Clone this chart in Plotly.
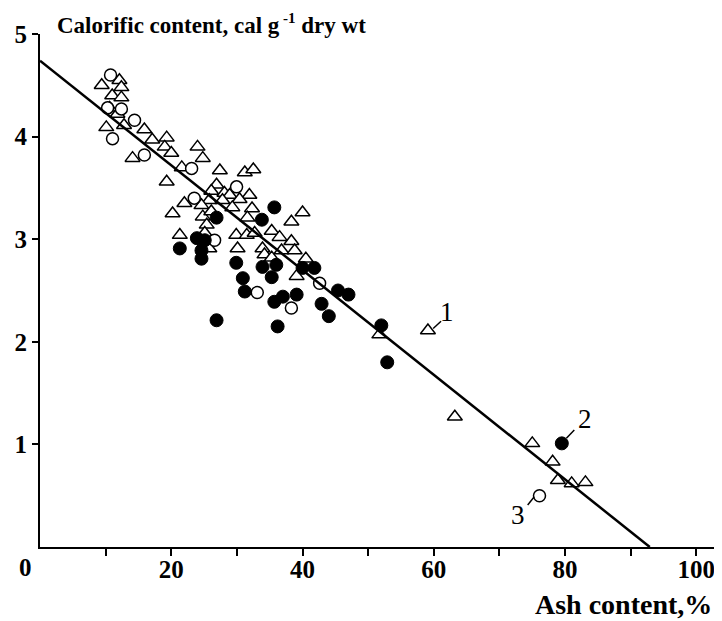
import plotly.graph_objects as go

# Series 1: open triangles
tri_x = [9.4, 12.1, 12.4, 11.0, 12.4, 10.6, 11.8, 10.1, 12.8, 15.9, 17.1, 19.3, 19.0, 20.0, 14.1,
         24.0, 24.8, 21.6, 19.3, 27.4, 31.2, 32.5, 26.9, 26.1, 28.1, 22.0, 20.2, 28.9, 31.9, 25.8,
         27.8, 30.4, 24.6, 29.3, 32.3, 24.8, 26.1, 31.6, 25.4, 25.1, 21.3, 25.8, 29.9, 31.5, 30.1,
         32.7, 35.3, 33.9, 38.3, 40.0, 38.3, 34.2, 35.3, 40.5, 39.1, 36.5, 36.8, 38.8, 51.7, 59.1,
         63.2, 75.0, 78.1, 78.9, 81.0, 83.1]
tri_y = [4.50, 4.55, 4.48, 4.40, 4.38, 4.28, 4.22, 4.09, 4.11, 4.07, 3.97, 3.99, 3.90, 3.84, 3.79,
         3.90, 3.79, 3.70, 3.56, 3.67, 3.65, 3.68, 3.53, 3.47, 3.45, 3.35, 3.25, 3.43, 3.43, 3.38,
         3.38, 3.39, 3.33, 3.31, 3.30, 3.22, 3.27, 3.21, 3.14, 3.06, 3.04, 2.91, 3.04, 3.04, 2.91,
         3.06, 3.08, 2.91, 3.17, 3.26, 2.98, 2.85, 2.82, 2.81, 2.64, 3.02, 2.89, 2.89, 2.07, 2.11,
         1.27, 1.01, 0.83, 0.65, 0.62, 0.63]

# Series 2: filled circles
fil_x = [35.7, 33.8, 26.9, 23.9, 25.1, 21.3, 24.6, 24.6, 29.9, 33.9, 36.0, 35.3, 30.9, 31.2,
         40.0, 41.8, 45.4, 47.0, 37.0, 39.1, 35.7, 42.9, 44.0, 26.9, 36.2, 52.0, 52.9, 79.5]
fil_y = [3.31, 3.19, 3.21, 3.01, 2.99, 2.91, 2.89, 2.81, 2.77, 2.73, 2.75, 2.63, 2.62, 2.49,
         2.72, 2.72, 2.50, 2.46, 2.44, 2.46, 2.39, 2.37, 2.25, 2.21, 2.15, 2.16, 1.80, 1.01]

# Series 3: open circles
opc_x = [10.75, 10.3, 12.4, 11.05, 14.4, 15.9, 23.1, 23.5, 29.95, 26.6, 33.1, 38.3, 42.6, 76.1]
opc_y = [4.60, 4.28, 4.27, 3.98, 4.16, 3.82, 3.69, 3.40, 3.51, 2.99, 2.48, 2.33, 2.57, 0.50]

# Regression line
fit_x = [0, 92.9]
fit_y = [4.74, 0.0]

# Series labels and leader lines
lab_text = ["1", "2", "3"]
lab_x = [62.0, 83.0, 72.8]
lab_y = [2.29, 1.25, 0.31]
lead_x0 = [59.9, 80.2, 74.3]
lead_y0 = [2.13, 1.06, 0.41]
lead_x1 = [61.1, 81.4, 75.3]
lead_y1 = [2.20, 1.14, 0.49]

x_ticks = [20, 40, 60, 80, 100]
x_minor_ticks = [10, 30, 50, 70, 90]
y_ticks = [1, 2, 3, 4, 5]

FONT = "Liberation Serif"

fig = go.Figure()
fig.add_trace(go.Scatter(x=tri_x, y=tri_y, mode="markers",
                         marker=dict(symbol="triangle-up", size=13, color="white",
                                     line=dict(color="black", width=1.5)),
                         showlegend=False, cliponaxis=False))
fig.add_trace(go.Scatter(x=opc_x, y=opc_y, mode="markers",
                         marker=dict(symbol="circle", size=12, color="white",
                                     line=dict(color="black", width=1.5)),
                         showlegend=False, cliponaxis=False))
fig.add_trace(go.Scatter(x=fil_x, y=fil_y, mode="markers",
                         marker=dict(symbol="circle", size=13, color="black",
                                     line=dict(color="black", width=1)),
                         showlegend=False, cliponaxis=False))
fig.add_trace(go.Scatter(x=fit_x, y=fit_y, mode="lines",
                         line=dict(color="black", width=2.5),
                         showlegend=False, cliponaxis=False))

for t, x, y, x0, y0, x1, y1 in zip(lab_text, lab_x, lab_y, lead_x0, lead_y0, lead_x1, lead_y1):
    fig.add_annotation(x=x, y=y, text=t, showarrow=False, xref="x", yref="y",
                       font=dict(family=FONT, size=27, color="black"))
    fig.add_shape(type="line", x0=x0, y0=y0, x1=x1, y1=y1, xref="x", yref="y",
                  line=dict(color="black", width=1.5))

fig.add_annotation(x=0.022, y=1.0, xref="paper", yref="paper", xanchor="left", yanchor="bottom",
                   yshift=-6,
                   text="<b>Calorific content, cal g<sup><span style='font-size:15px'> -1</span></sup> dry wt</b>",
                   showarrow=False,
                   font=dict(family=FONT, size=23, color="black"))
fig.add_annotation(x=0.991, y=-0.113, xref="paper", yref="paper", xanchor="right", yanchor="middle",
                   text="<b>Ash content,%</b>", showarrow=False,
                   font=dict(family=FONT, size=28, color="black"))
fig.add_annotation(x=-0.022, y=-0.039, xref="paper", yref="paper", xanchor="center", yanchor="middle",
                   text="<b>0</b>", showarrow=False,
                   font=dict(family=FONT, size=25, color="black"))

# the page body adds an 8px margin, so the figure is 8px smaller on each axis
fig.update_layout(
    width=714, height=613,
    margin=dict(l=32, r=2, t=26, b=74),
    paper_bgcolor="white", plot_bgcolor="white",
    xaxis=dict(range=[0, 103.6], showgrid=False, zeroline=False, showline=True,
               linecolor="black", linewidth=2, ticks="outside", ticklen=7, tickwidth=2,
               tickcolor="black", tickmode="array", tickvals=x_ticks,
               minor=dict(tickmode="array", tickvals=x_minor_ticks, ticks="outside",
                          ticklen=7, tickwidth=2, tickcolor="black", showgrid=False),
               ticklabelstandoff=-8,
               tickfont=dict(family=FONT, size=25, color="black", weight="bold")),
    yaxis=dict(range=[0, 5], showgrid=False, zeroline=False, showline=True,
               linecolor="black", linewidth=2, ticks="outside", ticklen=6, tickwidth=2,
               tickcolor="black", tickmode="array", tickvals=y_ticks,
               tickfont=dict(family=FONT, size=25, color="black", weight="bold")),
)

fig.write_html("out.html")
